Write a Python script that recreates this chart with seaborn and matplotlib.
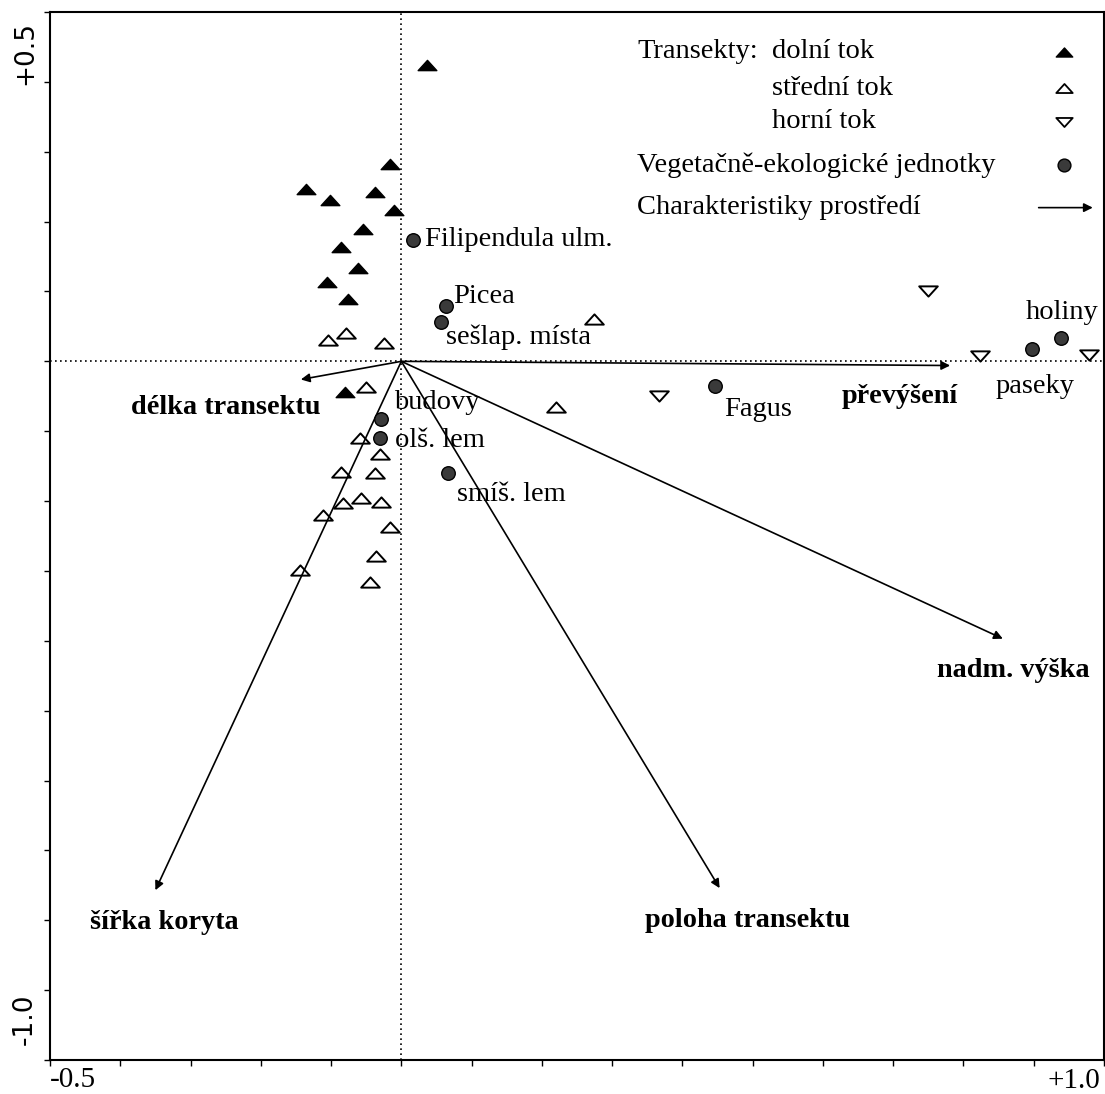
import pandas as pd
import matplotlib.pyplot as plt
import seaborn as sns
from matplotlib.path import Path

# Transekty - dolni tok (plne trojuhelniky)
dolni_x = [0.036, -0.016, -0.136, -0.101, -0.037, -0.011, -0.054, -0.086, -0.061, -0.106, -0.076, -0.080]
dolni_y = [0.424, 0.282, 0.246, 0.231, 0.243, 0.217, 0.190, 0.163, 0.134, 0.114, 0.089, -0.044]

# Transekty - stredni tok (prazdne trojuhelniky)
stredni_x = [-0.104, -0.079, -0.024, 0.274, -0.050, 0.220, -0.059, -0.030, -0.086, -0.037,
             -0.057, -0.029, -0.083, -0.111, -0.016, -0.036, -0.144, -0.044]
stredni_y = [0.031, 0.041, 0.026, 0.061, -0.037, -0.066, -0.110, -0.133, -0.159, -0.160,
             -0.196, -0.201, -0.203, -0.220, -0.237, -0.279, -0.299, -0.316]

# Transekty - horni tok (obracene trojuhelniky)
horni_x = [0.750, 0.824, 0.979, 0.367]
horni_y = [0.100, 0.007, 0.009, -0.049]

# Vegetacne-ekologicke jednotky
jednotky = ["Filipendula ulm.", "Picea", "sešlap. místa", "budovy", "olš. lem",
            "smíš. lem", "Fagus", "paseky", "holiny"]
jedn_x = [0.016, 0.063, 0.057, -0.029, -0.031, 0.066, 0.447, 0.897, 0.939]
jedn_y = [0.174, 0.079, 0.057, -0.083, -0.110, -0.160, -0.036, 0.017, 0.034]
popis_x = [0.034, 0.074, 0.063, -0.011, -0.009, 0.079, 0.460, 0.846, 0.889]
popis_y = [0.174, 0.093, 0.034, -0.059, -0.114, -0.190, -0.069, -0.036, 0.070]

# Charakteristiky prostredi (sipky)
promenne = ["délka transektu", "převýšení", "nadm. výška", "poloha transektu", "šířka koryta"]
sip_x = [-0.143, 0.781, 0.856, 0.453, -0.350]
sip_y = [-0.026, -0.006, -0.397, -0.754, -0.757]
prom_x = [-0.250, 0.709, 0.871, 0.493, -0.337]
prom_y = [-0.066, -0.050, -0.443, -0.801, -0.803]

sns.set_style("white")
plt.rcParams['font.family'] = ['Liberation Serif', 'DejaVu Serif']
plt.rcParams['text.color'] = 'black'

fig = plt.figure(figsize=(11.05, 10.94), dpi=100)
ax = fig.add_axes([50 / 1105, 34 / 1094, 1054 / 1105, 1048 / 1094])

tri_up = Path([(-1, -0.55), (1, -0.55), (0, 0.55), (-1, -0.55)],
              [Path.MOVETO, Path.LINETO, Path.LINETO, Path.CLOSEPOLY])
tri_down = Path([(-1, 0.55), (1, 0.55), (0, -0.55), (-1, 0.55)],
                [Path.MOVETO, Path.LINETO, Path.LINETO, Path.CLOSEPOLY])

ax.axhline(0, color='black', lw=1.2, ls=(0, (1, 2)), zorder=1)
ax.axvline(0, color='black', lw=1.2, ls=(0, (1, 2)), zorder=1)

df_d = pd.DataFrame({"x": dolni_x, "y": dolni_y})
df_s = pd.DataFrame({"x": stredni_x, "y": stredni_y})
df_h = pd.DataFrame({"x": horni_x, "y": horni_y})
df_j = pd.DataFrame({"x": jedn_x, "y": jedn_y, "nazev": jednotky})

sns.scatterplot(data=df_d, x="x", y="y", marker=tri_up, s=180, color='black',
                edgecolor='black', linewidth=1, ax=ax, zorder=3)
sns.scatterplot(data=df_s, x="x", y="y", marker=tri_up, s=180, facecolor='white',
                edgecolor='black', linewidth=1.4, ax=ax, zorder=3)
sns.scatterplot(data=df_h, x="x", y="y", marker=tri_down, s=180, facecolor='white',
                edgecolor='black', linewidth=1.4, ax=ax, zorder=3)
sns.scatterplot(data=df_j, x="x", y="y", marker='o', s=95, color='#3a3a3a',
                edgecolor='black', linewidth=1, ax=ax, zorder=4)

for nazev, tx, ty in zip(jednotky, popis_x, popis_y):
    ax.text(tx, ty, nazev, fontsize=20.5, ha='left', va='center')

for nazev, sx, sy, tx, ty in zip(promenne, sip_x, sip_y, prom_x, prom_y):
    ax.annotate("", xy=(sx, sy), xytext=(0, 0),
                arrowprops=dict(arrowstyle='-|>', lw=1.2, color='black',
                                mutation_scale=13, shrinkA=0, shrinkB=0))
    ax.text(tx, ty, nazev, fontsize=20.3, fontweight='bold', ha='center', va='center')

# legenda
fs = 20.5
ax.text(0.336, 0.443, "Transekty:", fontsize=fs, ha='left', va='center')
ax.text(0.527, 0.443, "dolní tok", fontsize=fs, ha='left', va='center')
ax.text(0.527, 0.391, "střední tok", fontsize=fs, ha='left', va='center')
ax.text(0.527, 0.343, "horní tok", fontsize=fs, ha='left', va='center')
ax.text(0.336, 0.281, "Vegetačně-ekologické jednotky", fontsize=fs, ha='left', va='center')
ax.text(0.336, 0.220, "Charakteristiky prostředí", fontsize=fs, ha='left', va='center')
ax.scatter([0.943], [0.443], marker=tri_up, s=140, color='black', zorder=3)
ax.scatter([0.943], [0.391], marker=tri_up, s=140, facecolor='white', edgecolor='black', lw=1.3, zorder=3)
ax.scatter([0.943], [0.343], marker=tri_down, s=140, facecolor='white', edgecolor='black', lw=1.3, zorder=3)
ax.scatter([0.943], [0.281], marker='o', s=85, color='#3a3a3a', edgecolor='black', zorder=3)
ax.annotate("", xy=(0.984, 0.220), xytext=(0.907, 0.220),
            arrowprops=dict(arrowstyle='-|>', lw=1.2, color='black',
                            mutation_scale=13, shrinkA=0, shrinkB=0))

ax.set_xlim(-0.5, 1.0)
ax.set_ylim(-1.0, 0.5)
ax.set_xlabel("")
ax.set_ylabel("")
ax.set_xticks([i / 10 for i in range(-5, 11)])
ax.set_yticks([i / 10 for i in range(-10, 6)])
ax.set_xticklabels([])
ax.set_yticklabels([])
ax.tick_params(direction='out', length=4, width=1, bottom=True, left=True, color='black')
for sp in ax.spines.values():
    sp.set_color('black')
    sp.set_linewidth(1.5)

# popisky os na koncich
fig.text(50 / 1105, 14 / 1094, "-0.5", fontsize=21, ha='left', va='center')
fig.text(1100 / 1105, 13 / 1094, "+1.0", fontsize=21, ha='right', va='center')
fig.text(25 / 1105, 1 - 53 / 1094, "+0.5", fontsize=19, rotation=90, ha='center',
         va='center', family='DejaVu Sans')
fig.text(25 / 1105, 1 - 1019 / 1094, "-1.0", fontsize=19, rotation=90, ha='center',
         va='center', family='DejaVu Sans')

fig.savefig("out.png", dpi=100)
